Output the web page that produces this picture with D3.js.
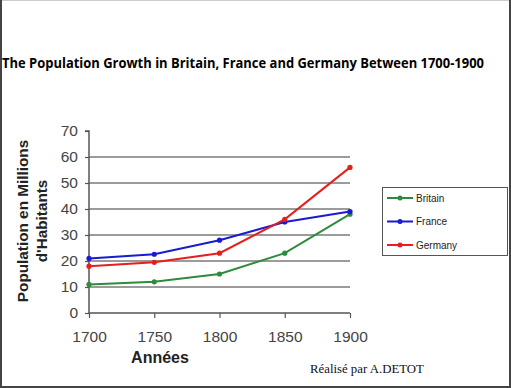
<!DOCTYPE html>
<html>
<head>
<meta charset="utf-8">
<script src="https://cdn.jsdelivr.net/npm/d3@7"></script>
<style>
  body { margin: 0; background: #fff; }
  svg { display: block; }
</style>
</head>
<body>
<div id="main"></div>
<script>
// data
var years = [1700, 1750, 1800, 1850, 1900];
var britain = [11, 12, 15, 23, 38];
var france = [21, 22.6, 28, 35, 39];
var germany = [18, 19.5, 23, 36, 56];
var yTicks = [0, 10, 20, 30, 40, 50, 60, 70];
var seriesNames = ["Britain", "France", "Germany"];
var seriesColors = ["#2e8b3e", "#1a1ad0", "#e61e1e"];

var W = 511, H = 388;
var svg = d3.select("#main")
  .append("svg")
    .attr("width", W)
    .attr("height", H);

// frame round the whole picture
svg.append("rect")
  .attr("x", 0.5).attr("y", 0.5)
  .attr("width", W - 1).attr("height", H - 1)
  .attr("fill", "none").attr("stroke", "#ccc");
svg.append("path")
  .attr("d", "M1," + 0 + "V" + (H - 1) + "H" + (W - 1) + "V0")
  .attr("fill", "none")
  .attr("stroke", "#444")
  .attr("stroke-width", 2);

svg.append("text")
  .attr("x", 2)
  .attr("y", 68)
  .attr("font-family", "Open Sans, sans-serif")
  .attr("font-weight", "bold")
  .attr("font-size", 13.5)
  .attr("textLength", 482)
  .attr("lengthAdjust", "spacingAndGlyphs")
  .attr("fill", "#000")
  .text("The Population Growth in Britain, France and Germany Between 1700-1900");

var x = d3.scaleLinear().domain([1700, 1900]).range([89, 350]);
var y = d3.scaleLinear().domain([0, 70]).range([313, 131]);

// gridlines
svg.append("g")
  .selectAll("line")
  .data(yTicks.filter(function(d) { return d > 0 && d < 70; }))
  .enter().append("line")
    .attr("x1", x(1700)).attr("x2", x(1900))
    .attr("y1", function(d) { return y(d); })
    .attr("y2", function(d) { return y(d); })
    .attr("stroke", "#7a7a7a")
    .attr("stroke-width", 1.5);

// axes
var yAxis = svg.append("g")
  .attr("transform", "translate(" + x(1700) + ",0)")
  .call(d3.axisLeft(y).tickValues(yTicks).tickSize(4).tickPadding(7));
var xAxis = svg.append("g")
  .attr("transform", "translate(0," + y(0) + ")")
  .call(d3.axisBottom(x).tickValues(years).tickSize(5).tickPadding(13).tickFormat(d3.format("d")));

[yAxis, xAxis].forEach(function(a) {
  a.select(".domain").attr("stroke", "#555").attr("stroke-width", 1.5);
  a.selectAll(".tick line").attr("stroke", "#555").attr("stroke-width", 1.2);
  a.selectAll("text")
    .attr("font-family", "Liberation Sans, Arial, sans-serif")
    .attr("font-size", 15.5)
    .attr("fill", "#444");
});
xAxis.select(".domain").attr("d", "M" + x(1700) + ",0H" + x(1900));
yAxis.select(".domain").attr("d", "M-4," + y(70) + "H0V" + y(0));

// axis titles
var yTitle = svg.append("text")
  .attr("transform", "translate(28,221) rotate(-90)")
  .attr("text-anchor", "middle")
  .attr("font-family", "Liberation Sans, Arial, sans-serif")
  .attr("font-weight", "bold")
  .attr("font-size", 15.3)
  .attr("fill", "#222");
yTitle.append("tspan").attr("x", 0).attr("dy", 0).text("Population en Millions");
yTitle.append("tspan").attr("x", 0).attr("dy", 19).text("d'Habitants");

svg.append("text")
  .attr("x", 160).attr("y", 363)
  .attr("text-anchor", "middle")
  .attr("font-family", "Liberation Sans, Arial, sans-serif")
  .attr("font-weight", "bold")
  .attr("font-size", 16)
  .attr("fill", "#222")
  .text("Années");

svg.append("text")
  .attr("x", 310).attr("y", 373)
  .attr("font-family", "Liberation Serif, serif")
  .attr("font-size", 12.8)
  .attr("fill", "#111")
  .text("Réalisé par A.DETOT");

// lines
var line = d3.line()
  .x(function(d) { return x(d[0]); })
  .y(function(d) { return y(d[1]); });

var allSeries = [britain, france, germany];
allSeries.forEach(function(vals, i) {
  var pts = years.map(function(yr, j) { return [yr, vals[j]]; });
  svg.append("path")
    .datum(pts)
    .attr("d", line)
    .attr("fill", "none")
    .attr("stroke", seriesColors[i])
    .attr("stroke-width", 2);
  svg.append("g")
    .selectAll("circle")
    .data(pts)
    .enter().append("circle")
      .attr("cx", function(d) { return x(d[0]); })
      .attr("cy", function(d) { return y(d[1]); })
      .attr("r", 2.6)
      .attr("fill", seriesColors[i]);
});

// legend
var legend = svg.append("g");
legend.append("rect")
  .attr("x", 382.5).attr("y", 187.5)
  .attr("width", 125).attr("height", 68)
  .attr("fill", "#fff")
  .attr("stroke", "#555")
  .attr("stroke-width", 1);
var items = legend.selectAll("g.item")
  .data(seriesNames)
  .enter().append("g")
    .attr("class", "item")
    .attr("transform", function(d, i) { return "translate(387," + (198 + i * 23.5) + ")"; });
items.append("line")
  .attr("x1", 0).attr("x2", 26)
  .attr("stroke", function(d, i) { return seriesColors[i]; })
  .attr("stroke-width", 2);
items.append("circle")
  .attr("cx", 13).attr("r", 2.5)
  .attr("fill", function(d, i) { return seriesColors[i]; });
items.append("text")
  .attr("x", 29).attr("y", 3.5)
  .attr("font-family", "Liberation Sans, Arial, sans-serif")
  .attr("font-size", 10)
  .attr("fill", "#222")
  .text(function(d) { return d; });
</script>
</body>
</html>
